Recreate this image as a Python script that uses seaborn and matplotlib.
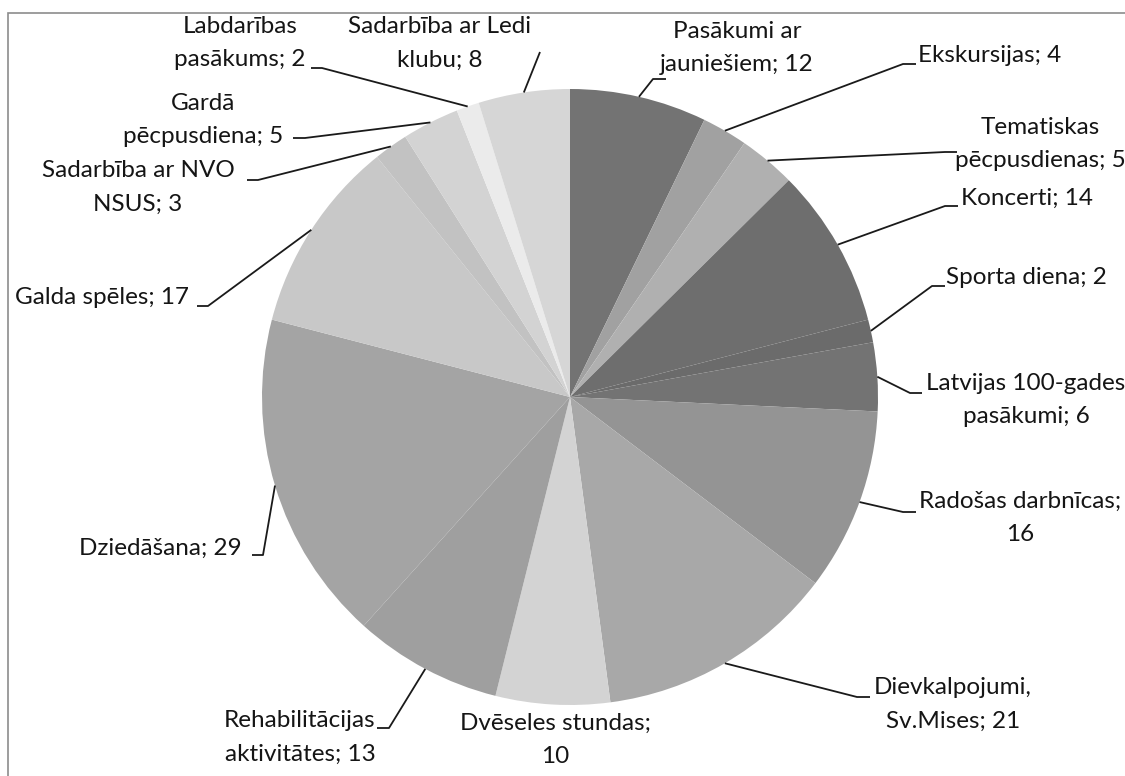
import numpy as np
import matplotlib.pyplot as plt
import seaborn as sns
from matplotlib.patches import Rectangle

labels = [
    "Pasākumi ar\njauniešiem; 12", "Ekskursijas; 4", "Tematiskas\npēcpusdienas; 5",
    "Koncerti; 14", "Sporta diena; 2", "Latvijas 100-gades\npasākumi; 6",
    "Radošas darbnīcas;\n16", "Dievkalpojumi,\nSv.Mises; 21", "Dvēseles stundas;\n10",
    "Rehabilitācijas\naktivitātes; 13", "Dziedāšana; 29", "Galda spēles; 17",
    "Sadarbība ar NVO\nNSUS; 3", "Gardā\npēcpusdiena; 5", "Labdarības\npasākums; 2",
    "Sadarbība ar Ledi\nklubu; 8",
]
values = [12, 4, 5, 14, 2, 6, 16, 21, 10, 13, 29, 17, 3, 5, 2, 8]
colors = [
    "#737373", "#a1a1a1", "#b0b0b0", "#6e6e6e", "#6b6b6b", "#737373",
    "#949494", "#a8a8a8", "#d3d3d3", "#9f9f9f", "#a4a4a4", "#c8c8c8",
    "#c2c2c2", "#d3d3d3", "#ebebeb", "#d6d6d6",
]

W, H = 1125, 776
CX, CY, R = 570, 397, 308  # pie centre / radius in image pixels

# label block centres and leader elbow/end points (image pixels, y down)
text_pos = [
    (737, 48), (990, 55), (1040, 144), (1027, 198), (1026, 277), (1026, 400),
    (1020, 518), (953, 704), (555, 740), (300, 737), (160, 548), (102, 298),
    (138, 187), (203, 120), (240, 43), (440, 43),
]
leaders = [
    (653, 79, 666), (903, 64, 916), (945, 152, 957), (945, 206, 958),
    (932, 286, 945), (910, 393, 922), (903, 512, 916), (857, 697, 870),
    None, (389, 728, 377), (263, 555, 252), (208, 306, 197),
    (258, 180, 247), (305, 138, 293), (322, 68, 311), (540, 52, 540),
]

sns.set_style("white")
plt.rcParams["font.family"] = ["Lato", "DejaVu Sans"]

fig = plt.figure(figsize=(W / 100, H / 100), dpi=100)
ax = fig.add_axes([0, 0, 1, 1])

wedges, _ = ax.pie(
    values, colors=colors, startangle=90, counterclock=False,
    center=(CX, H - CY), radius=R,
    wedgeprops=dict(linewidth=0),
)
ax.set_xlim(0, W)
ax.set_ylim(0, H)
ax.set_aspect("equal")
ax.axis("off")

for w, lab, (tx, ty), ld in zip(wedges, labels, text_pos, leaders):
    ax.text(tx, H - ty, lab, ha="center", va="center", fontsize=17.5,
            color="#151515", linespacing=1.75, multialignment="center")
    if ld is None:
        continue
    mid = np.deg2rad((w.theta1 + w.theta2) / 2)
    ex = CX + R * np.cos(mid)
    ey = (H - CY) + R * np.sin(mid)
    bx, by, endx = ld
    ax.plot([ex, bx, endx], [ey, H - by, H - by], color="#1a1a1a", lw=1.3,
            solid_capstyle="butt")

ax.add_patch(Rectangle((8, -10), W + 20, H - 13 + 10, fill=False,
                       edgecolor="#8c8c8c", lw=1.2))

fig.savefig("out.png", dpi=100)
